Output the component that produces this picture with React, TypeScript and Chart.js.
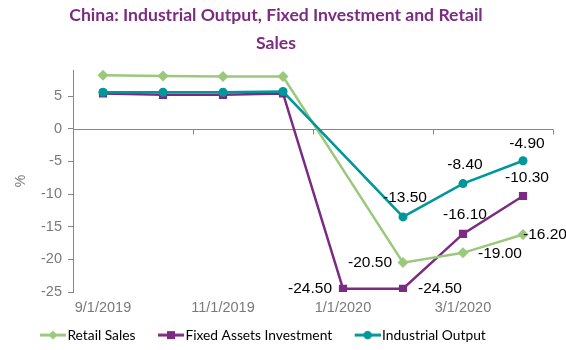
import React, { useEffect, useRef } from 'react';
import { Chart, registerables } from 'chart.js';

Chart.register(...registerables);

const categories = ['9/1/2019', '10/1/2019', '11/1/2019', '12/1/2019', '1/1/2020', '2/1/2020', '3/1/2020', '4/1/2020'];
const retailSales = [8.2, 8.1, 8.0, 8.0, null, -20.5, -19.0, -16.2];
const fixedAssetsInvestment = [5.4, 5.2, 5.2, 5.4, -24.5, -24.5, -16.1, -10.3];
const industrialOutput = [5.6, 5.6, 5.6, 5.7, null, -13.5, -8.4, -4.9];
const seriesNames = ['Retail Sales', 'Fixed Assets Investment', 'Industrial Output'];
const titleLines = ['China: Industrial Output, Fixed Investment and Retail', 'Sales'];
const yAxisTitle = '%';

const GREEN = '#9cc87c';
const PURPLE = '#7b2c82';
const TEAL = '#00979a';
const GRAY = '#868686';
const TICK_GRAY = '#7a7a7a';

function makeIcon(color: string, style: string) {
  const c = document.createElement('canvas');
  c.width = 44;
  c.height = 12;
  const ctx = c.getContext('2d')!;
  ctx.strokeStyle = color;
  ctx.fillStyle = color;
  ctx.lineWidth = 3;
  ctx.beginPath();
  ctx.moveTo(18, 6);
  ctx.lineTo(44, 6);
  ctx.stroke();
  ctx.beginPath();
  const cx = 31;
  if (style === 'diamond') {
    ctx.moveTo(cx, 1.5);
    ctx.lineTo(cx + 4.5, 6);
    ctx.lineTo(cx, 10.5);
    ctx.lineTo(cx - 4.5, 6);
    ctx.closePath();
  } else if (style === 'square') {
    ctx.rect(cx - 4, 2, 8, 8);
  } else {
    ctx.arc(cx, 6, 4.2, 0, Math.PI * 2);
  }
  ctx.fill();
  return c;
}

const dataLabelPlugin = {
  id: 'dataLabels',
  afterDatasetsDraw(chart: any) {
    const ctx = chart.ctx;
    ctx.save();
    ctx.font = '15.5px "Liberation Sans", Arial, sans-serif';
    ctx.fillStyle = '#000';
    ctx.textBaseline = 'middle';
    chart.data.datasets.forEach((ds: any, di: number) => {
      const meta = chart.getDatasetMeta(di);
      (ds.labelPlacement || []).forEach((p: any, i: number) => {
        if (!p) return;
        const v = ds.data[i];
        if (v === null || v === undefined) return;
        const el = meta.data[i];
        ctx.textAlign = p.align;
        ctx.fillText(Number(v).toFixed(2), el.x + p.dx, el.y + p.dy);
      });
    });
    ctx.restore();
  },
};

const zeroLinePlugin = {
  id: 'zeroLine',
  beforeDatasetsDraw(chart: any) {
    const { ctx, chartArea } = chart;
    const xs = chart.scales.x;
    const ys = chart.scales.y;
    const y = Math.round(ys.getPixelForValue(0)) + 0.5;
    ctx.save();
    ctx.strokeStyle = GRAY;
    ctx.lineWidth = 1;
    ctx.beginPath();
    ctx.moveTo(chartArea.left, y);
    ctx.lineTo(chartArea.right, y);
    const n = chart.data.labels.length;
    const w = xs.getPixelForValue(1) - xs.getPixelForValue(0);
    for (let i = 0; i <= n; i += 2) {
      const x = Math.round(xs.getPixelForValue(0) - w / 2 + i * w) + 0.5;
      ctx.moveTo(x, y);
      ctx.lineTo(x, y + 5);
    }
    ctx.stroke();
    ctx.restore();
  },
};

const titlePlugin = {
  id: 'customTitle',
  afterDraw(chart: any) {
    const ctx = chart.ctx;
    ctx.save();
    ctx.font = 'bold 17.6px Lato, "Liberation Sans", sans-serif';
    ctx.fillStyle = PURPLE;
    ctx.textAlign = 'center';
    ctx.textBaseline = 'middle';
    titleLines.forEach((line, i) => {
      ctx.fillText(line, 276, 15 + i * 28);
    });
    ctx.restore();
  },
};

export default function App() {
  const ref = useRef<HTMLCanvasElement>(null);

  useEffect(() => {
    document.body.style.margin = '0';
    const canvas = ref.current!;
    const icons = [makeIcon(GREEN, 'diamond'), makeIcon(PURPLE, 'square'), makeIcon(TEAL, 'circle')];
    const chart = new Chart(canvas, {
      type: 'line',
      data: {
        labels: categories,
        datasets: [
          {
            label: seriesNames[0],
            data: retailSales,
            borderColor: GREEN,
            backgroundColor: GREEN,
            borderWidth: 2.5,
            pointStyle: 'rectRot',
            pointRadius: 5.5,
            pointBorderWidth: 0,
            spanGaps: true,
            order: 1,
            labelPlacement: [null, null, null, null, null,
              { align: 'right', dx: -11, dy: 0 },
              { align: 'left', dx: 15, dy: 1 },
              { align: 'left', dx: 0, dy: 0 }],
          } as any,
          {
            label: seriesNames[1],
            data: fixedAssetsInvestment,
            borderColor: PURPLE,
            backgroundColor: PURPLE,
            borderWidth: 2.5,
            pointStyle: 'rect',
            pointRadius: 5.8,
            pointBorderWidth: 0,
            spanGaps: true,
            order: 2,
            labelPlacement: [null, null, null, null,
              { align: 'right', dx: -11, dy: 0 },
              { align: 'left', dx: 15, dy: 0 },
              { align: 'center', dx: 2, dy: -19 },
              { align: 'center', dx: 4, dy: -18 }],
          } as any,
          {
            label: seriesNames[2],
            data: industrialOutput,
            borderColor: TEAL,
            backgroundColor: TEAL,
            borderWidth: 2.5,
            pointStyle: 'circle',
            pointRadius: 4.5,
            pointBorderWidth: 0,
            spanGaps: true,
            order: 0,
            labelPlacement: [null, null, null, null, null,
              { align: 'center', dx: 2, dy: -19 },
              { align: 'center', dx: 2, dy: -19 },
              { align: 'center', dx: 4, dy: -17 }],
          } as any,
        ],
      },
      options: {
        responsive: false,
        animation: false,
        devicePixelRatio: 1,
        layout: { padding: { left: 17.5, right: 13, top: 70, bottom: -2 } },
        plugins: {
          title: { display: false },
          tooltip: { enabled: false },
          legend: {
            position: 'bottom',
            align: 'start',
            labels: {
              usePointStyle: true,
              pointStyleWidth: 33,
              padding: 10,
              color: '#000',
              font: { family: 'Lato, "Liberation Sans", sans-serif', size: 13.8 },
              generateLabels: (ch: any) =>
                ch.data.datasets.map((ds: any, i: number) => ({
                  text: ds.label,
                  pointStyle: icons[i],
                  fillStyle: ds.borderColor,
                  strokeStyle: ds.borderColor,
                  lineWidth: 0,
                  hidden: false,
                  datasetIndex: i,
                  fontColor: '#000',
                })),
            },
          },
        },
        scales: {
          x: {
            offset: true,
            grid: { display: false, drawTicks: false },
            border: { display: false },
            ticks: {
              autoSkip: false,
              maxRotation: 0,
              padding: 7,
              color: TICK_GRAY,
              font: { family: '"Liberation Sans", Arial, sans-serif', size: 14.5 },
              callback: (_v: any, i: number) => (i % 2 === 0 ? categories[i] : ''),
            },
            afterFit: (s: any) => { s.height = 26.2; },
          },
          y: {
            min: -25,
            max: 9,
            grid: { display: true, drawOnChartArea: false, drawTicks: true, tickLength: 5, color: GRAY },
            border: { display: true, color: GRAY, width: 1 },
            ticks: {
              stepSize: 5,
              includeBounds: false,
              padding: 6,
              color: TICK_GRAY,
              font: { family: '"Liberation Sans", Arial, sans-serif', size: 14.5 },
            },
            title: {
              display: true,
              text: yAxisTitle,
              color: TICK_GRAY,
              padding: { top: -5, bottom: 0 },
              font: { family: '"Liberation Sans", Arial, sans-serif', size: 14 },
            },
            afterFit: (s: any) => { s.width = 55.5; },
          },
        },
      } as any,
      plugins: [zeroLinePlugin, dataLabelPlugin, titlePlugin],
    });
    return () => chart.destroy();
  }, []);

  return (
    <div style={{ width: 566, height: 350 }}>
      <canvas ref={ref} width={566} height={350} style={{ display: 'block', width: 566, height: 350 }} />
    </div>
  );
}
